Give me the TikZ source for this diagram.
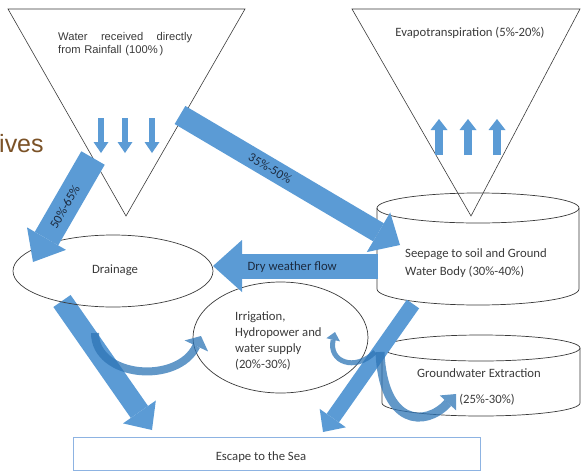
\documentclass[tikz,border=0pt]{standalone}
\usepackage{fontspec}
\setmainfont{Carlito}
\newfontfamily\arialfont{Liberation Sans}
\usetikzlibrary{arrows.meta,positioning,shapes.geometric}
\definecolor{flowblue}{HTML}{5B9BD5}
\definecolor{curveblue}{HTML}{2E75B6}
\definecolor{boxblue}{HTML}{8DB3E2}
\definecolor{labelnavy}{HTML}{1C2B40}
\definecolor{linegray}{HTML}{3A3A3A}
\definecolor{slidebrown}{HTML}{7B5227}
\tikzset{
	funnel/.style={draw=linegray, line width=0.6pt},
	basin/.style={ellipse, draw=linegray, line width=0.7pt, inner sep=0pt},
	tank/.style={draw=linegray, line width=0.7pt},
	txt/.style={font=\fontsize{12.7}{16}\selectfont, text=linegray, inner sep=0pt},
	flowlabel/.style={font=\fontsize{12.7}{15}\selectfont, text=labelnavy, inner sep=0pt},
	flow/.style n args={3}{draw=flowblue, line width=#1, -{Triangle[width=#2,length=#3,line width=0pt]}},
	curl/.style n args={3}{draw=curveblue, opacity=0.75, line width=#1, -{Triangle[width=#2,length=#3,line width=0pt]}}
}

\begin{document}
\begin{tikzpicture}[x=1pt,y=-1pt]
	\useasboundingbox (0,0) rectangle (581,472);
	
	%%% slide text cut off at the left
	\node[font=\arialfont\fontsize{25}{30}\selectfont, text=slidebrown, inner sep=0pt, anchor=base west] (slideword) at (-1,152) {ives};
	
	%%% funnels
	\draw[funnel] (8,9) -- (245,9) -- (126,216) -- cycle;
	\draw[funnel] (352,9) -- (580,9) -- (471,216) -- cycle;
	\node[txt, font=\arialfont\fontsize{11.2}{13}\selectfont, text width=134pt, align=left, anchor=north west] (rain) at (58,32) {Water\hfill received\hfill directly\\from Rainfall (100\%\,)};
	\node[txt, anchor=base] (evap) at (470,36) {Evapotranspiration (5\%-20\%)};
	
	%%% drainage to the sea (under the ellipse line)
	\coordinate (drainout) at (62,301);
	\coordinate (seaL) at (152,430);
	\draw[flow={21pt}{40pt}{22pt}] (drainout) -- (seaL);
	
	%%% tanks
	\draw[tank] (377,208) -- (377,289) arc[start angle=180, end angle=0, x radius=101, y radius=16] -- (579,208);
	\draw[tank] (478,208) ellipse[x radius=101, y radius=15];
	\node[txt, align=left, anchor=north west, font=\fontsize{12.7}{18}\selectfont] (seepage) at (405,248) {Seepage to soil and Ground\\Water Body (30\%-40\%)};
	
	\draw[tank] (382,348) -- (382,403) arc[start angle=180, end angle=0, x radius=99, y radius=13] -- (580,348);
	\draw[tank] (481,348) ellipse[x radius=99, y radius=13];
	\node[txt, anchor=base] (gwater) at (479,377) {Groundwater Extraction};
	\node[txt, anchor=base] (gwaterpct) at (487,403) {(25\%-30\%)};
	
	%%% basins
	\node[basin, minimum width=200pt, minimum height=72pt] (drainage) at (113,271) {};
	\node[txt, anchor=base] (drainlabel) at (115,273) {Drainage};
	\node[basin, minimum width=175pt, minimum height=111pt] (irrig) at (280.5,337.5) {};
	\node[txt, align=left, anchor=north west] (irriglabel) at (235,311.5) {Irrigation,\\Hydropower and\\water supply\\(20\%-30\%)};
	
	%%% sea
	\node[draw=boxblue, line width=0.9pt, fill=white, minimum width=407pt, minimum height=33pt, inner sep=0pt] (sea) at (276.5,453.5) {};
	\node[txt, anchor=base] (sealabel) at (261,460) {Escape to the Sea};
	
	%%% rain and evaporation arrows
	\foreach \x in {101,125,152}
		\draw[flow={6.5pt}{15pt}{11pt}] (\x,118) -- (\x,153);
	\foreach \x in {439,468,497}
		\draw[flow={8pt}{17pt}{11pt}] (\x,155) -- (\x,119);
	
	%%% main flows
	\coordinate (rainL) at (93,158);
	\coordinate (drainin) at (33,262);
	\draw[flow={27pt}{45pt}{27pt}] (rainL) -- node[flowlabel, sloped, pos=0.47] (pctdrain) {50\%-65\%} (drainin);
	
	\coordinate (rainR) at (180,115);
	\coordinate (seepin) at (400,245);
	\draw[flow={21pt}{46pt}{25pt}] (rainR) -- node[flowlabel, sloped, pos=0.41] (pctseep) {35\%-50\%} (seepin);
	
	\coordinate (seepL) at (378,266);
	\coordinate (drainR) at (213,266);
	\draw[flow={25pt}{52pt}{29pt}] (seepL) -- node[flowlabel, pos=0.52, yshift=-1pt] (dryflow) {Dry weather flow} (drainR);
	
	\coordinate (seepout) at (413,304);
	\coordinate (seaR) at (323,432);
	\draw[flow={15pt}{32pt}{17pt}] (seepout) -- (seaR);
	
	%%% curved arrows
	\coordinate (curlA) at (95,333);
	\coordinate (irrigW) at (201,336);
	\draw[curl={8pt}{26pt}{11pt}] (curlA) .. controls (95,378) and (178,385) .. (irrigW);
	
	\coordinate (curlB) at (375,352);
	\coordinate (irrigE) at (335,332);
	\draw[curl={5pt}{14pt}{8pt}] (curlB) .. controls (355,372) and (328,362) .. (irrigE);
	
	\coordinate (curlC) at (380,352);
	\coordinate (gwaterW) at (456,394);
	\draw[curl={9pt}{22pt}{12pt}] (curlC) .. controls (383,425) and (425,428) .. (gwaterW);
\end{tikzpicture}
\end{document}
